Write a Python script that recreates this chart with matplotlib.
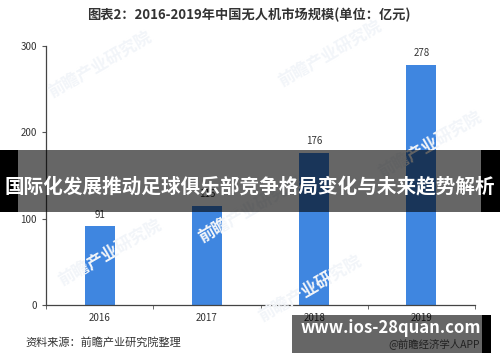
import matplotlib.pyplot as plt
from matplotlib.patches import Rectangle
import numpy as np

plt.rcParams['font.family'] = ['Noto Sans CJK SC', 'DejaVu Sans']

years = ['2016', '2017', '2018', '2019']
market = [91, 115, 176, 278]
bar_color = '#3f86e0'

fig = plt.figure(figsize=(5, 3.62), dpi=100)
ax = fig.add_axes([0.092, 0.1575, 0.858, 0.7155])

x = np.arange(len(years))
ax.bar(x, market, width=0.28, color=bar_color, zorder=2)
for xi, v in zip(x, market):
    ax.text(xi, v + 8, str(v), ha='center', va='bottom', fontsize=7, color='#333333')

ax.set_xlim(-0.5, 3.5)
ax.set_ylim(0, 300)
ax.set_yticks([0, 100, 200, 300])
ax.set_xticks(x)
ax.set_xticklabels(years)
ax.set_xticks(np.arange(-0.5, 4, 1), minor=True)
ax.tick_params(axis='x', which='major', length=0, pad=6, labelsize=7, labelcolor='#333333')
ax.tick_params(axis='x', which='minor', length=3, color='#555555')
ax.tick_params(axis='y', length=3, labelsize=7, labelcolor='#333333', color='#555555')
for s in ['top', 'right']:
    ax.spines[s].set_visible(False)
for s in ['left', 'bottom']:
    ax.spines[s].set_color('#444444')
    ax.spines[s].set_linewidth(0.9)

# faint watermarks
for wx, wy in [(0.2, 0.82), (0.66, 0.85), (0.86, 0.6), (0.5, 0.42), (0.22, 0.3), (0.62, 0.2)]:
    fig.text(wx, wy, '前瞻产业研究院', fontsize=12, color='#f2f5f9', rotation=30,
             ha='center', va='center', zorder=0, fontweight='bold')

fig.text(0.498, 0.958, '图表2：2016-2019年中国无人机市场规模(单位：亿元)', ha='center', va='center',
         fontsize=9.5, fontweight='bold', color='#333333')
fig.text(0.05, 0.055, '资料来源：前瞻产业研究院整理', ha='left', va='center', fontsize=8, color='#333333')

# overlay banner
fig.patches.append(Rectangle((0, 1 - 212 / 362), 1, 62 / 362, transform=fig.transFigure,
                             facecolor='black', alpha=0.6, zorder=5))
fig.patches.append(Rectangle((0, 1 - 212 / 362), 18 / 500, 62 / 362, transform=fig.transFigure,
                             facecolor='black', zorder=5))
fig.patches.append(Rectangle((481 / 500, 1 - 212 / 362), 19 / 500, 62 / 362, transform=fig.transFigure,
                             facecolor='black', zorder=5))
fig.text(0.5, 1 - 186 / 362, '国际化发展推动足球俱乐部竞争格局变化与未来趋势解析', ha='center', va='center',
         fontsize=14.1, fontweight='bold', color='white', zorder=6)

# bottom-right box
fig.text(0.96, 0.052, '@前瞻经济学人APP', ha='right', va='center', fontsize=7.5, color='#555555', zorder=4)
fig.patches.append(Rectangle((292 / 500, 1 - 353 / 362), 190 / 500, 38 / 362, transform=fig.transFigure,
                             facecolor='black', alpha=0.6, zorder=5))
fig.patches.append(Rectangle((482 / 500, 1 - 353 / 362), 9 / 500, 38 / 362, transform=fig.transFigure,
                             facecolor='black', zorder=5))
fig.text(0.781, 1 - 328 / 362, 'www.ios-28quan.com', ha='center', va='center',
         fontsize=12, fontweight='bold', color='white', zorder=6)

fig.savefig('out.png', dpi=100)
